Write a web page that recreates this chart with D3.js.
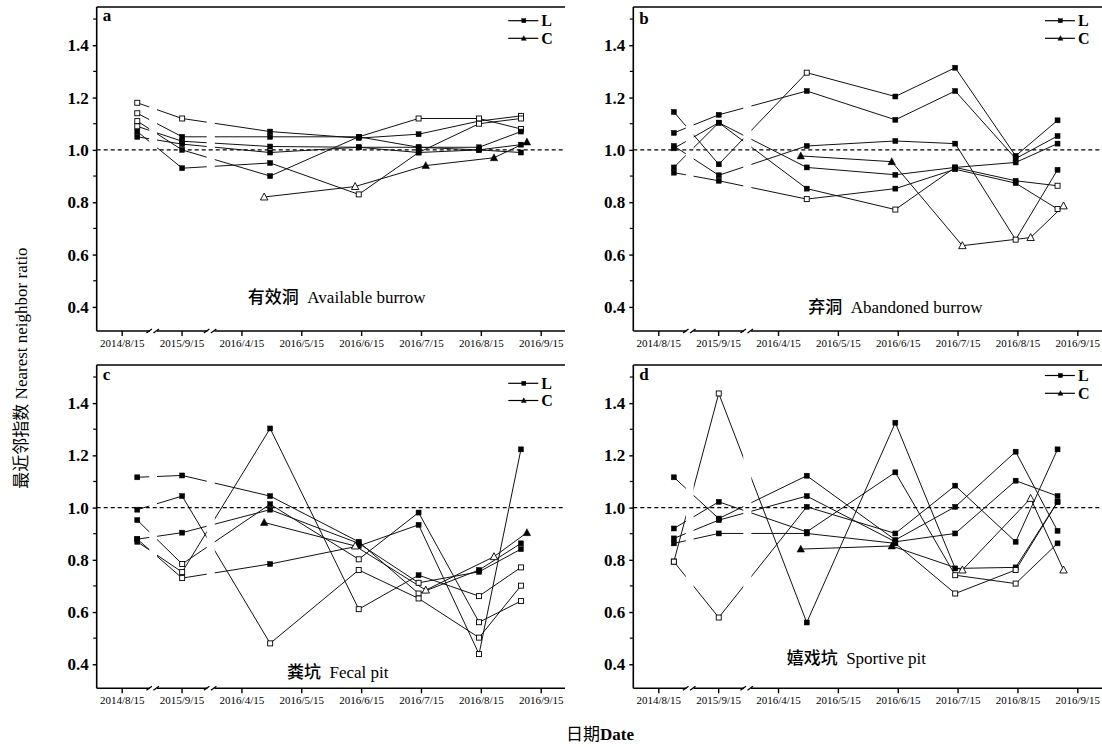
<!DOCTYPE html>
<html><head><meta charset="utf-8">
<script src="https://cdn.jsdelivr.net/npm/d3@7"></script>
<style>body{margin:0;background:#fff}</style>
</head><body>
<svg id="chart" width="1102" height="747"></svg>
<script>
// ---------- data ----------
const xTickLabels = ["2014/8/15","2015/9/15","2016/4/15","2016/5/15","2016/6/15","2016/7/15","2016/8/15","2016/9/15"];
const yMajorTicks = [0.4,0.6,0.8,1.0,1.2,1.4];
const yMinorTicks = [0.5,0.7,0.9,1.1,1.3,1.5];
// sampling positions, in x tick units (axis is broken after tick 0 and tick 1)
const groupX = [0.26,1.01,2.48,3.96,4.96,5.97,6.67];
const triX   = [2.38,3.90,5.08,6.22,6.77];
const breakX = [0.53,1.49];
const legendLabels = ["L","C"];
const panelLetters = ["a","b","c","d"];
const panelTitles = [["有效洞","Available burrow"],["弃洞","Abandoned burrow"],["粪坑","Fecal pit"],["嬉戏坑","Sportive pit"]];

// marker codes: s filled square, S open square, t filled triangle, T open triangle
const valuesA = [
  [1.18,1.12,1.07,1.045,1.06,1.11,1.13],
  [1.14,1.05,1.05,1.05,1.12,1.12,1.08],
  [1.11,1.00,0.90,1.05,1.01,1.01,1.07],
  [1.09,1.033,1.013,1.01,0.99,1.00,0.99],
  [1.07,0.93,0.95,0.83,0.99,1.10,1.12],
  [1.05,1.022,0.99,1.01,1.01,1.00,1.02]
];
const markersA = ["SSsssSS","SsssSSS","Sssssss","Sssssss","sssSsSS","sssssss"];
const triA = [0.82,0.86,0.94,0.97,1.03];
const triMarkA = "TTttt";

const valuesB = [
  [1.065,1.134,1.225,1.115,1.225,0.967,1.053],
  [1.145,0.945,1.295,1.204,1.314,0.977,1.113],
  [1.015,0.903,1.015,1.034,1.024,0.657,0.924],
  [0.913,0.882,0.812,0.852,0.926,0.873,0.774],
  [1.006,1.104,0.933,0.905,0.933,0.952,1.024],
  [0.933,1.104,0.852,0.772,0.933,0.882,0.863]
];
const markersB = ["sssssss","ssSssss","sssssSs","ssSsssS","sssssss","sssSssS"];
const triB = [0.977,0.955,0.634,0.665,0.786];
const triMarkB = "ttTTT";

const valuesC = [
  [1.116,1.123,1.044,0.869,0.671,0.761,0.863],
  [0.992,1.044,0.480,0.761,0.652,0.502,0.701],
  [0.879,0.904,0.992,0.863,0.712,0.754,0.841],
  [0.952,0.784,1.013,0.802,0.981,0.561,0.642],
  [0.869,0.753,1.303,0.611,0.741,0.661,0.771],
  [0.879,0.730,0.784,0.853,0.934,0.439,1.223]
];
const markersC = ["ssssSss","ssSSSSS","ssssSss","sSsSsSS","sSsSsSS","sSsssSs"];
const triC = [0.943,0.853,0.684,0.812,0.904];
const triMarkC = "tTTTt";

const valuesD = [
  [0.793,1.437,0.560,1.325,0.767,0.771,1.022],
  [0.793,0.579,1.003,0.901,1.084,0.869,1.223],
  [1.116,0.958,1.122,0.876,1.003,1.214,0.911],
  [0.920,1.022,0.907,1.135,0.741,0.709,0.863],
  [0.882,0.952,1.044,0.869,0.901,1.103,1.044],
  [0.863,0.901,0.901,0.863,0.671,0.761,1.022]
];
const markersD = ["SSsssss","SSsssss","sssssss","ssssSSs","sssssss","ssssSSs"];
const triD = [0.841,0.853,0.761,1.035,0.761];
const triMarkD = "ttTTT";

// ---------- layout ----------
const panels = [
  {left:96.7, top:7, bottom:331, right:565, letterY:21, legendY:[20.7,38.3], titleDx:240, titleY:297, values:valuesA, markers:markersA, tri:triA, triM:triMarkA},
  {left:633.3, top:7, bottom:331, right:1102, letterY:24, legendY:[20.7,38.3], titleDx:262, titleY:307, values:valuesB, markers:markersB, tri:triB, triM:triMarkB},
  {left:96.7, top:365, bottom:688.3, right:565, letterY:380, legendY:[383.3,400.5], titleDx:241, titleY:672, values:valuesC, markers:markersC, tri:triC, triM:triMarkC},
  {left:633.3, top:365, bottom:688.3, right:1102, letterY:380, legendY:[375.5,393.3], titleDx:223, titleY:658, values:valuesD, markers:markersD, tri:triD, triM:triMarkD}
];

const svg = d3.select("#chart");
const defs = svg.append("defs");
const SERIF = "'Liberation Serif','Times New Roman',serif";
const CJK = "'Noto Sans CJK SC','Noto Sans CJK JP',sans-serif";

function marker(g, cx, cy, type, size) {
  const s = size || 5;
  if (type === "s" || type === "S") {
    g.append("rect").attr("x", cx - s/2).attr("y", cy - s/2).attr("width", s).attr("height", s)
      .attr("fill", type === "s" ? "#000" : "#fff").attr("stroke", "#000").attr("stroke-width", type === "s" ? 0.5 : 0.9);
  } else {
    const h = s * 1.1;
    const pts = [[cx, cy - h*0.6],[cx - s*0.62, cy + h*0.45],[cx + s*0.62, cy + h*0.45]];
    g.append("path").attr("d", "M" + pts.map(p => p.join(",")).join("L") + "Z")
      .attr("fill", type === "t" ? "#000" : "#fff").attr("stroke", "#000").attr("stroke-width", type === "t" ? 0.5 : 0.9);
  }
}

panels.forEach((p, pi) => {
  const g = svg.append("g");
  const x = d3.scaleLinear().domain([0, 7]).range([p.left + 25, p.left + 25 + 419]);
  const y = d3.scaleLinear().domain([0.308, 1.546]).range([p.bottom, p.top]);

  // clip with gaps at the axis breaks
  const clipId = "clip" + pi;
  const cp = defs.append("clipPath").attr("id", clipId);
  [[p.left, x(0.46)], [x(0.59), x(1.42)], [x(1.555), p.right]].forEach(b => {
    cp.append("rect").attr("x", b[0]).attr("y", p.top - 5).attr("width", b[1] - b[0]).attr("height", p.bottom - p.top + 10);
  });

  // reference line
  g.append("line").attr("x1", p.left).attr("x2", p.right).attr("y1", y(1)).attr("y2", y(1))
    .attr("stroke", "#000").attr("stroke-width", 1.2).attr("stroke-dasharray", "4,3");

  const line = d3.line().x(d => x(d[0])).y(d => y(d[1]));
  const lg = g.append("g").attr("clip-path", `url(#${clipId})`);
  p.values.forEach(vals => {
    lg.append("path").attr("d", line(vals.map((v, i) => [groupX[i], v])))
      .attr("fill", "none").attr("stroke", "#111").attr("stroke-width", 1);
  });
  lg.append("path").attr("d", line(p.tri.map((v, i) => [triX[i], v])))
    .attr("fill", "none").attr("stroke", "#111").attr("stroke-width", 1);

  const mg = g.append("g");
  p.values.forEach((vals, si) => {
    vals.forEach((v, i) => marker(mg, x(groupX[i]), y(v), p.markers[si][i], 5));
  });
  p.tri.forEach((v, i) => marker(mg, x(triX[i]), y(v), p.triM[i], 6));

  // axes
  const ax = g.append("g").attr("stroke", "#000");
  ax.append("line").attr("x1", p.left).attr("x2", p.right).attr("y1", p.top).attr("y2", p.top).attr("stroke-width", 1.6);
  ax.append("line").attr("x1", p.left).attr("x2", p.right).attr("y1", p.bottom).attr("y2", p.bottom).attr("stroke-width", 1.6);
  ax.append("line").attr("x1", p.left).attr("x2", p.left).attr("y1", p.top).attr("y2", p.bottom).attr("stroke-width", 1.6);

  const yAxis = d3.axisLeft(y).tickValues(yMajorTicks).tickFormat(d3.format(".1f")).tickSize(4).tickSizeOuter(0).tickPadding(4);
  const yg = g.append("g").attr("transform", `translate(${p.left},0)`).call(yAxis);
  yg.select(".domain").remove();
  yg.selectAll(".tick line").attr("stroke-width", 1.4);
  yg.selectAll(".tick text").attr("font-family", SERIF).attr("font-weight", "bold").attr("font-size", 17).attr("fill", "#000");
  yMinorTicks.forEach(v => {
    g.append("line").attr("x1", p.left - 3.5).attr("x2", p.left).attr("y1", y(v)).attr("y2", y(v)).attr("stroke", "#000").attr("stroke-width", 1.2);
  });

  const xAxis = d3.axisBottom(x).tickValues(d3.range(8)).tickFormat(i => xTickLabels[i]).tickSize(5).tickSizeOuter(0).tickPadding(3);
  const xg = g.append("g").attr("transform", `translate(0,${p.bottom})`).call(xAxis);
  xg.select(".domain").remove();
  xg.selectAll(".tick line").attr("stroke-width", 1.4);
  xg.selectAll(".tick text").attr("font-family", SERIF).attr("font-size", 11).attr("fill", "#000");

  // axis break marks
  breakX.forEach(b => {
    const cx = x(b);
    g.append("rect").attr("x", cx - 3.5).attr("y", p.bottom - 2).attr("width", 7).attr("height", 4).attr("fill", "#fff");
    [-4.5, 2.5].forEach(o => {
      g.append("line").attr("x1", cx + o - 2.5).attr("y1", p.bottom + 2).attr("x2", cx + o + 3).attr("y2", p.bottom - 2)
        .attr("stroke", "#000").attr("stroke-width", 1.3);
    });
  });

  // panel letter
  g.append("text").attr("x", p.left + 6).attr("y", p.letterY).text(panelLetters[pi])
    .attr("font-family", SERIF).attr("font-weight", "bold").attr("font-size", 17).attr("fill", "#000");

  // legend
  const lx = p.left + 411.6;
  legendLabels.forEach((lab, li) => {
    const ly = p.legendY[li];
    g.append("line").attr("x1", lx).attr("x2", lx + 30).attr("y1", ly).attr("y2", ly).attr("stroke", "#000").attr("stroke-width", 1.2);
    marker(g, lx + 15.5, ly, li === 0 ? "s" : "t", 4);
    g.append("text").attr("x", lx + 33).attr("y", ly).attr("dy", "0.33em").text(lab)
      .attr("font-family", SERIF).attr("font-weight", "bold").attr("font-size", 16).attr("fill", "#000");
  });

  // panel title
  const t = g.append("text").attr("x", p.left + p.titleDx).attr("y", p.titleY).attr("dy", "0.35em").attr("text-anchor", "middle").attr("fill", "#000");
  t.append("tspan").text(panelTitles[pi][0]).attr("font-family", CJK).attr("font-size", 17).attr("font-weight", "500");
  t.append("tspan").text("\u00a0\u00a0" + panelTitles[pi][1]).attr("font-family", SERIF).attr("font-size", 17);
});

// axis titles
const yt = svg.append("text").attr("transform", "translate(27,368) rotate(-90)").attr("text-anchor", "middle").attr("fill", "#000");
yt.append("tspan").text("最近邻指数").attr("font-family", CJK).attr("font-size", 17).attr("fill", "#000");
yt.append("tspan").text(" Nearest neighbor ratio").attr("font-family", SERIF).attr("font-size", 17).attr("fill", "#000");

const xt = svg.append("text").attr("x", 600).attr("y", 740).attr("text-anchor", "middle").attr("fill", "#000");
xt.append("tspan").text("日期").attr("font-family", CJK).attr("font-size", 17).attr("fill", "#000");
xt.append("tspan").text("Date").attr("font-family", SERIF).attr("font-size", 17).attr("font-weight", "bold").attr("fill", "#000");
</script>
</body></html>
